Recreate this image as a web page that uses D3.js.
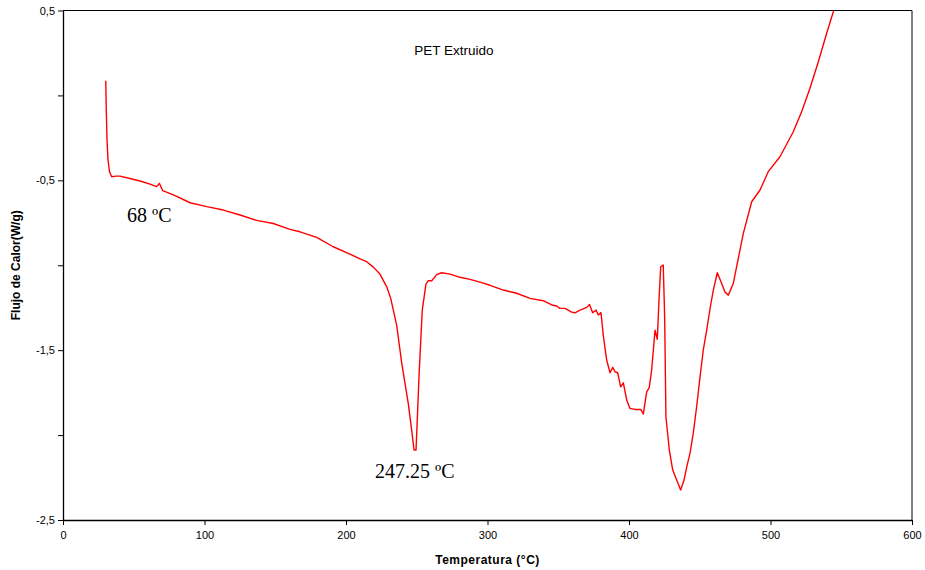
<!DOCTYPE html>
<html>
<head>
<meta charset="utf-8">
<script src="https://cdn.jsdelivr.net/npm/d3@7"></script>
<style>
  body { margin: 0; background: #fff; }
  text { font-family: "Liberation Sans", Arial, sans-serif; }
</style>
</head>
<body>
<svg id="chart" width="925" height="570"></svg>
<script>
const width = 925;
const height = 570;
const margin = { top: 10.5, right: 13, bottom: 50, left: 63 };

// temperature (°C)
const temps = [30.2, 30.6, 31.1, 31.8, 32.9, 34.4, 37.5, 40.3, 47.3, 54.4, 61.5, 66.2, 68.1, 70.5, 79.2, 89.8,
    101.6, 113.3, 125.1, 136.9, 148.6, 160.4, 167.5, 179.3, 191.0, 202.8, 209.9, 214.6, 219.3, 224.0, 228.8,
    231.6, 235.8, 239.4, 244.0, 246.4, 248.1, 249.5, 251.8, 253.9, 256.5, 258.2, 260.6, 264.1, 267.6, 273.5,
    280.6, 287.6, 294.7, 301.8, 311.2, 320.6, 330.0, 339.4, 345.4, 348.9, 351.2, 354.8, 359.5, 361.8, 365.4,
    370.1, 372.1, 374.3, 376.7, 378.3, 380.2, 381.8, 384.2, 386.6, 388.5, 390.1, 392.0, 394.1, 396.0, 398.4,
    400.7, 404.2, 408.3, 410.1, 412.5, 414.3, 416.0, 418.4, 420.0, 421.2, 422.4, 424.2, 425.2, 426.1, 428.5,
    430.9, 433.7, 436.5, 438.9, 440.8, 443.1, 445.4, 447.8, 450.2, 452.5, 454.9, 457.7, 459.6, 462.4, 465.5,
    467.8, 470.2, 473.7, 480.8, 486.7, 492.6, 498.4, 506.7, 516.1, 522.0, 527.9, 533.8, 539.7, 544.4, 544.9];

// heat flow (W/g)
const flux = [0.087, -0.086, -0.263, -0.380, -0.451, -0.479, -0.475, -0.475, -0.489, -0.504, -0.522, -0.537,
    -0.518, -0.561, -0.590, -0.632, -0.655, -0.675, -0.704, -0.736, -0.754, -0.789, -0.803, -0.836, -0.891,
    -0.934, -0.963, -0.979, -1.011, -1.052, -1.127, -1.195, -1.352, -1.578, -1.813, -1.971, -2.088, -2.088,
    -1.617, -1.264, -1.111, -1.091, -1.091, -1.055, -1.044, -1.052, -1.071, -1.083, -1.099, -1.118, -1.146,
    -1.165, -1.195, -1.209, -1.234, -1.240, -1.254, -1.254, -1.276, -1.280, -1.264, -1.248, -1.231, -1.280,
    -1.264, -1.293, -1.279, -1.411, -1.558, -1.633, -1.601, -1.627, -1.633, -1.716, -1.692, -1.794, -1.843,
    -1.849, -1.849, -1.876, -1.745, -1.720, -1.617, -1.382, -1.436, -1.205, -1.009, -0.999, -1.303, -1.892,
    -2.088, -2.206, -2.265, -2.324, -2.265, -2.187, -2.108, -1.990, -1.833, -1.657, -1.499, -1.382, -1.234,
    -1.146, -1.044, -1.107, -1.158, -1.176, -1.107, -0.812, -0.626, -0.557, -0.449, -0.361, -0.214, -0.096,
    0.042, 0.198, 0.366, 0.493, 0.51];

const xTicks = [0, 100, 200, 300, 400, 500, 600];
const yTicks = [0.5, 0, -0.5, -1, -1.5, -2, -2.5];
const yLabels = ["0,5", "", "-0,5", "", "-1,5", "", "-2,5"];

const svg = d3.select("#chart");

const x = d3.scaleLinear().domain([0, 600]).range([margin.left, width - margin.right]);
const y = d3.scaleLinear().domain([-2.5, 0.5]).range([height - margin.bottom, margin.top]);

svg.append("defs").append("clipPath").attr("id", "plot")
    .append("rect")
    .attr("x", margin.left).attr("y", margin.top)
    .attr("width", width - margin.right - margin.left)
    .attr("height", height - margin.bottom - margin.top);

// frame on top and right
svg.append("path")
    .attr("d", "M" + x(0) + "," + y(0.5) + "H" + x(600) + "V" + y(-2.5))
    .attr("fill", "none")
    .attr("stroke", "#000")
    .attr("stroke-width", 1);

const xAxis = svg.append("g")
    .attr("transform", "translate(0," + y(-2.5) + ")")
    .call(d3.axisBottom(x).tickValues(xTicks).tickSize(5).tickPadding(6).tickSizeOuter(0));

const yAxis = svg.append("g")
    .attr("transform", "translate(" + x(0) + ",0)")
    .call(d3.axisLeft(y).tickValues(yTicks).tickSize(5).tickPadding(3).tickSizeOuter(0)
        .tickFormat(function (d, i) { return yLabels[i]; }));

[xAxis, yAxis].forEach(function (g) {
    g.selectAll("text").attr("font-family", "'Liberation Sans', Arial, sans-serif").attr("font-size", 11).attr("fill", "#000");
    g.selectAll("line").attr("stroke", "#000");
    g.select(".domain").attr("stroke", "#000").attr("stroke-width", 1.3);
});

const line = d3.line()
    .x(function (d, i) { return x(temps[i]); })
    .y(function (d, i) { return y(flux[i]); });

svg.append("path")
    .datum(temps)
    .attr("clip-path", "url(#plot)")
    .attr("d", line)
    .attr("fill", "none")
    .attr("stroke", "#ff0000")
    .attr("stroke-width", 1.4)
    .attr("stroke-linejoin", "round");

// titles
svg.append("text")
    .attr("x", (x(0) + x(600)) / 2)
    .attr("y", 564)
    .attr("text-anchor", "middle")
    .attr("font-size", 12)
    .attr("letter-spacing", 0.5)
    .attr("font-weight", "bold")
    .text("Temperatura (°C)");

svg.append("text")
    .attr("transform", "translate(20," + (y(-1)) + ") rotate(-90)")
    .attr("text-anchor", "middle")
    .attr("font-size", 12)
    .attr("font-weight", "bold")
    .text("Flujo de Calor(W/g)");

svg.append("text")
    .attr("x", 454)
    .attr("y", 55)
    .attr("text-anchor", "middle")
    .attr("font-size", 13.5)
    .text("PET Extruido");

// annotations
svg.append("text")
    .attr("x", 127)
    .attr("y", 222)
    .style("font-family", "'Liberation Serif', 'Times New Roman', serif")
    .attr("font-size", 20)
    .text("68 ºC");

svg.append("text")
    .attr("x", 375)
    .attr("y", 478)
    .style("font-family", "'Liberation Serif', 'Times New Roman', serif")
    .attr("font-size", 20)
    .text("247.25 ºC");
</script>
</body>
</html>
